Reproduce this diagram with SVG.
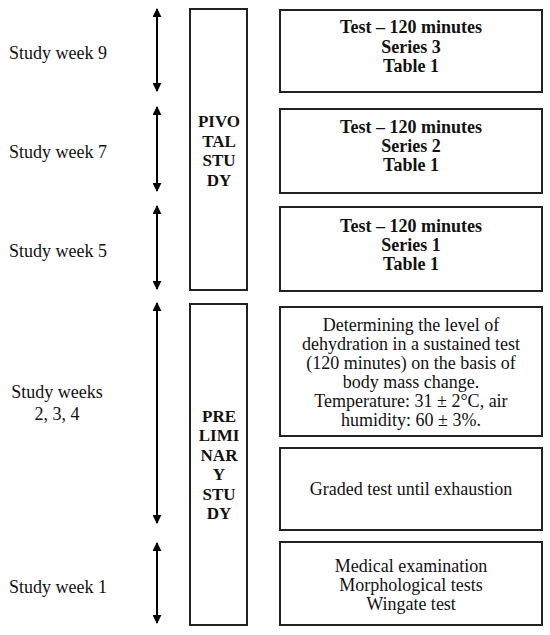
<svg xmlns="http://www.w3.org/2000/svg" width="550" height="635" viewBox="0 0 550 635">
<defs>
<marker id="ah" viewBox="0 0 10 10" refX="9" refY="5" markerWidth="9" markerHeight="9" markerUnits="userSpaceOnUse" orient="auto-start-reverse">
<path d="M0,0 L10,5 L0,10 z" fill="#000"/>
</marker>
<style>
.box{fill:#fff;stroke:#222;stroke-width:2}
.lbl{font-family:"Liberation Serif","Times New Roman",serif;font-size:18px;fill:#111}
.b{font-weight:bold}
.s{font-size:17px}
.c{text-anchor:middle}
.arr{stroke:#000;stroke-width:2;fill:none;marker-start:url(#ah);marker-end:url(#ah)}
</style>
</defs>
<rect width="550" height="635" fill="#fff"/>
<g id="connectors">
<line class="arr" x1="157" y1="9" x2="157" y2="91"/>
<line class="arr" x1="157" y1="107" x2="157" y2="191"/>
<line class="arr" x1="157" y1="206" x2="157" y2="289"/>
<line class="arr" x1="157" y1="303" x2="157" y2="523"/>
<line class="arr" x1="157" y1="543" x2="157" y2="623"/>
</g>
<g id="week9"><text class="lbl" x="9" y="59">Study week 9</text></g>
<g id="week7"><text class="lbl" x="9" y="158">Study week 7</text></g>
<g id="week5"><text class="lbl" x="9" y="257">Study week 5</text></g>
<g id="weeks234"><text class="lbl c" x="57" y="398">Study weeks</text><text class="lbl c" x="57" y="420">2, 3, 4</text></g>
<g id="week1"><text class="lbl" x="9" y="593">Study week 1</text></g>
<g id="pivotal">
<rect class="box" x="190" y="9" width="57" height="281"/>
<text class="lbl b c s" x="219" y="127">PIVO</text>
<text class="lbl b c s" x="219" y="147">TAL</text>
<text class="lbl b c s" x="219" y="166">STU</text>
<text class="lbl b c s" x="219" y="186">DY</text>
</g>
<g id="preliminary">
<rect class="box" x="190" y="304" width="57" height="321"/>
<text class="lbl b c s" x="219" y="422">PRE</text>
<text class="lbl b c s" x="219" y="441">LIMI</text>
<text class="lbl b c s" x="219" y="461">NAR</text>
<text class="lbl b c s" x="219" y="480">Y</text>
<text class="lbl b c s" x="219" y="500">STU</text>
<text class="lbl b c s" x="219" y="519">DY</text>
</g>
<g id="series3">
<rect class="box" x="280" y="10" width="262" height="82"/>
<text class="lbl b c" x="411" y="33">Test – 120 minutes</text>
<text class="lbl b c" x="411" y="53">Series 3</text>
<text class="lbl b c" x="411" y="72">Table 1</text>
</g>
<g id="series2">
<rect class="box" x="280" y="109" width="262" height="84"/>
<text class="lbl b c" x="411" y="133">Test – 120 minutes</text>
<text class="lbl b c" x="411" y="152">Series 2</text>
<text class="lbl b c" x="411" y="171">Table 1</text>
</g>
<g id="series1">
<rect class="box" x="280" y="207" width="262" height="84"/>
<text class="lbl b c" x="411" y="232">Test – 120 minutes</text>
<text class="lbl b c" x="411" y="251">Series 1</text>
<text class="lbl b c" x="411" y="270">Table 1</text>
</g>
<g id="dehydration">
<rect class="box" x="280" y="307" width="262" height="129"/>
<text class="lbl c" x="411" y="331">Determining the level of</text>
<text class="lbl c" x="411" y="350">dehydration in a sustained test</text>
<text class="lbl c" x="411" y="369">(120 minutes) on the basis of</text>
<text class="lbl c" x="411" y="388">body mass change.</text>
<text class="lbl c" x="411" y="407">Temperature: 31 ± 2°C, air</text>
<text class="lbl c" x="411" y="426">humidity: 60 ± 3%.</text>
</g>
<g id="graded">
<rect class="box" x="280" y="448" width="262" height="82"/>
<text class="lbl c" x="411" y="495">Graded test until exhaustion</text>
</g>
<g id="medical">
<rect class="box" x="280" y="542" width="262" height="83"/>
<text class="lbl c" x="411" y="572">Medical examination</text>
<text class="lbl c" x="411" y="591">Morphological tests</text>
<text class="lbl c" x="411" y="610">Wingate test</text>
</g>
</svg>
